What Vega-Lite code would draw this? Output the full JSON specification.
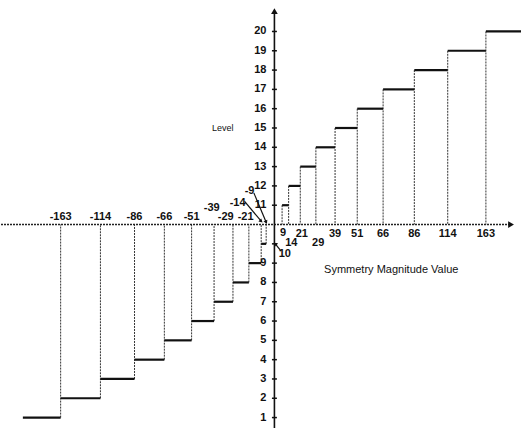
{
  "$schema": "https://vega.github.io/schema/vega-lite/v6.json",
  "width": 523,
  "height": 429,
  "autosize": {"type": "fit", "contains": "padding"},
  "padding": 0,
  "background": "white",
  "config": {"view": {"stroke": null}, "text": {"font": "Liberation Sans"}},
  "datasets": {
    "steps": [
      {"level": 1, "x1": -253, "x2": -215, "y": -10},
      {"level": 2, "x1": -215, "x2": -175, "y": -9},
      {"level": 3, "x1": -175, "x2": -140.7, "y": -8},
      {"level": 4, "x1": -140.7, "x2": -110.7, "y": -7},
      {"level": 5, "x1": -110.7, "x2": -83.3, "y": -6},
      {"level": 6, "x1": -83.3, "x2": -60.7, "y": -5},
      {"level": 7, "x1": -60.7, "x2": -41.7, "y": -4},
      {"level": 8, "x1": -41.7, "x2": -25.7, "y": -3},
      {"level": 9, "x1": -25.7, "x2": -13.3, "y": -2},
      {"level": 10, "x1": -13.3, "x2": -8.3, "y": -1},
      {"level": 11, "x1": 7.7, "x2": 14.3, "y": 1},
      {"level": 12, "x1": 14.3, "x2": 26, "y": 2},
      {"level": 13, "x1": 26, "x2": 41.7, "y": 3},
      {"level": 14, "x1": 41.7, "x2": 61, "y": 4},
      {"level": 15, "x1": 61, "x2": 83.3, "y": 5},
      {"level": 16, "x1": 83.3, "x2": 109.3, "y": 6},
      {"level": 17, "x1": 109.3, "x2": 140.7, "y": 7},
      {"level": 18, "x1": 140.7, "x2": 174.3, "y": 8},
      {"level": 19, "x1": 174.3, "x2": 212.7, "y": 9},
      {"level": 20, "x1": 212.7, "x2": 248, "y": 10}
    ],
    "verts": [
      {"value": -163, "x": -215, "y": -10},
      {"value": -114, "x": -175, "y": -9},
      {"value": -86, "x": -140.7, "y": -8},
      {"value": -66, "x": -110.7, "y": -7},
      {"value": -51, "x": -83.3, "y": -6},
      {"value": -39, "x": -60.7, "y": -5},
      {"value": -29, "x": -41.7, "y": -4},
      {"value": -21, "x": -25.7, "y": -3},
      {"value": -14, "x": -13.3, "y": -2},
      {"value": -9, "x": -8.3, "y": -1},
      {"value": 9, "x": 7.7, "y": 1},
      {"value": 14, "x": 14.3, "y": 2},
      {"value": 21, "x": 26, "y": 3},
      {"value": 29, "x": 41.7, "y": 4},
      {"value": 39, "x": 61, "y": 5},
      {"value": 51, "x": 83.3, "y": 6},
      {"value": 66, "x": 109.3, "y": 7},
      {"value": 86, "x": 140.7, "y": 8},
      {"value": 114, "x": 174.3, "y": 9},
      {"value": 163, "x": 212.7, "y": 10}
    ],
    "xlabels": [
      {"label": "-163", "x": -215, "y": 0.39},
      {"label": "-114", "x": -175, "y": 0.39},
      {"label": "-86", "x": -140.7, "y": 0.39},
      {"label": "-66", "x": -110.7, "y": 0.39},
      {"label": "-51", "x": -83.3, "y": 0.39},
      {"label": "-39", "x": -63, "y": 0.88},
      {"label": "-29", "x": -49, "y": 0.39},
      {"label": "-21", "x": -29, "y": 0.41},
      {"label": "-14", "x": -37, "y": 1.11},
      {"label": "-9", "x": -25, "y": 1.72},
      {"label": "9", "x": 8.7, "y": -0.43},
      {"label": "14", "x": 17, "y": -0.95},
      {"label": "21", "x": 27.5, "y": -0.49},
      {"label": "29", "x": 44, "y": -0.95},
      {"label": "39", "x": 61, "y": -0.48},
      {"label": "51", "x": 83.3, "y": -0.48},
      {"label": "66", "x": 109.3, "y": -0.48},
      {"label": "86", "x": 140.7, "y": -0.48},
      {"label": "114", "x": 174.3, "y": -0.48},
      {"label": "163", "x": 212.7, "y": -0.48},
      {"label": "10", "x": 10.5, "y": -1.55}
    ],
    "ylabels": [
      {"level": 1, "y": -10}, {"level": 2, "y": -9}, {"level": 3, "y": -8},
      {"level": 4, "y": -7}, {"level": 5, "y": -6}, {"level": 6, "y": -5},
      {"level": 7, "y": -4}, {"level": 8, "y": -3}, {"level": 9, "y": -2},
      {"level": 10, "y": -1}, {"level": 11, "y": 1}, {"level": 12, "y": 2},
      {"level": 13, "y": 3}, {"level": 14, "y": 4}, {"level": 15, "y": 5},
      {"level": 16, "y": 6}, {"level": 17, "y": 7}, {"level": 18, "y": 8},
      {"level": 19, "y": 9}, {"level": 20, "y": 10}
    ],
    "leaders": [
      {"label": "-14", "x1": -30, "y1": 1.2, "x2": -13.3, "y2": 0.17, "angle": 132},
      {"label": "-9", "x1": -20.7, "y1": 1.64, "x2": -8.3, "y2": 0.12, "angle": 155},
      {"label": "10", "x1": 6.7, "y1": -1.38, "x2": 0.9, "y2": -1.0, "angle": 305}
    ],
    "titles": [
      {"text": "Level", "x": -52, "y": 5.02, "size": 9},
      {"text": "Symmetry Magnitude Value", "x": 117.5, "y": -2.33, "size": 11}
    ]
  },
  "encoding": {},
  "layer": [
    {
      "data": {"name": "verts"},
      "mark": {"type": "rule", "stroke": "#333", "strokeWidth": 1, "strokeDash": [2, 1]},
      "encoding": {
        "x": {"field": "x", "type": "quantitative", "scale": {"domain": [-275, 248], "nice": false, "zero": false}, "axis": null},
        "y": {"field": "y", "type": "quantitative", "scale": {"domain": [-10.54, 11.63], "nice": false, "zero": false}, "axis": null},
        "y2": {"datum": 0}
      }
    },
    {
      "data": {"values": [{"a": 1}]},
      "mark": {"type": "rule", "stroke": "#222", "strokeWidth": 1.5, "strokeDash": [2, 1]},
      "encoding": {"x": {"datum": -275}, "x2": {"datum": 238}, "y": {"datum": 0}}
    },
    {
      "data": {"values": [{"a": 1}]},
      "mark": {"type": "rule", "stroke": "#111", "strokeWidth": 1.6},
      "encoding": {"x": {"datum": 0}, "y": {"datum": -10.54}, "y2": {"datum": 10.9}}
    },
    {
      "data": {"values": [{"a": 1}]},
      "mark": {"type": "point", "shape": "triangle-right", "filled": true, "color": "#111", "size": 45, "opacity": 1},
      "encoding": {"x": {"datum": 238}, "y": {"datum": 0}}
    },
    {
      "data": {"values": [{"a": 1}]},
      "mark": {"type": "point", "shape": "triangle-up", "filled": true, "color": "#111", "size": 45, "opacity": 1},
      "encoding": {"x": {"datum": 0}, "y": {"datum": 11.05}}
    },
    {
      "data": {"name": "ylabels"},
      "mark": {"type": "rule", "stroke": "#111", "strokeWidth": 1.5},
      "encoding": {"x": {"datum": -2.5}, "x2": {"datum": 2.5}, "y": {"field": "y", "type": "quantitative"}}
    },
    {
      "data": {"name": "steps"},
      "mark": {"type": "rule", "stroke": "#111", "strokeWidth": 2.2},
      "encoding": {
        "x": {"field": "x1", "type": "quantitative"},
        "x2": {"field": "x2"},
        "y": {"field": "y", "type": "quantitative"}
      }
    },
    {
      "data": {"name": "leaders"},
      "mark": {"type": "rule", "stroke": "#111", "strokeWidth": 1.2},
      "encoding": {
        "x": {"field": "x1", "type": "quantitative"},
        "x2": {"field": "x2"},
        "y": {"field": "y1", "type": "quantitative"},
        "y2": {"field": "y2"}
      }
    },
    {
      "data": {"name": "leaders"},
      "mark": {"type": "point", "shape": "triangle-up", "filled": true, "color": "#111", "size": 18, "opacity": 1},
      "encoding": {
        "x": {"field": "x2", "type": "quantitative"},
        "y": {"field": "y2", "type": "quantitative"},
        "angle": {"field": "angle", "type": "quantitative", "scale": null}
      }
    },
    {
      "data": {"name": "ylabels"},
      "transform": [{"filter": "datum.level != 10"}],
      "mark": {"type": "text", "align": "right", "baseline": "middle", "fontSize": 11, "fontWeight": "bold", "color": "#111"},
      "encoding": {
        "x": {"datum": -8},
        "y": {"field": "y", "type": "quantitative"},
        "text": {"field": "level", "type": "nominal"}
      }
    },
    {
      "data": {"name": "xlabels"},
      "mark": {"type": "text", "align": "center", "baseline": "middle", "fontSize": 11, "fontWeight": "bold", "color": "#111"},
      "encoding": {
        "x": {"field": "x", "type": "quantitative"},
        "y": {"field": "y", "type": "quantitative"},
        "text": {"field": "label", "type": "nominal"}
      }
    },
    {
      "data": {"name": "titles"},
      "mark": {"type": "text", "align": "center", "baseline": "middle", "color": "#111"},
      "encoding": {
        "x": {"field": "x", "type": "quantitative"},
        "y": {"field": "y", "type": "quantitative"},
        "text": {"field": "text", "type": "nominal"},
        "size": {"field": "size", "type": "quantitative", "scale": null}
      }
    }
  ]
}
